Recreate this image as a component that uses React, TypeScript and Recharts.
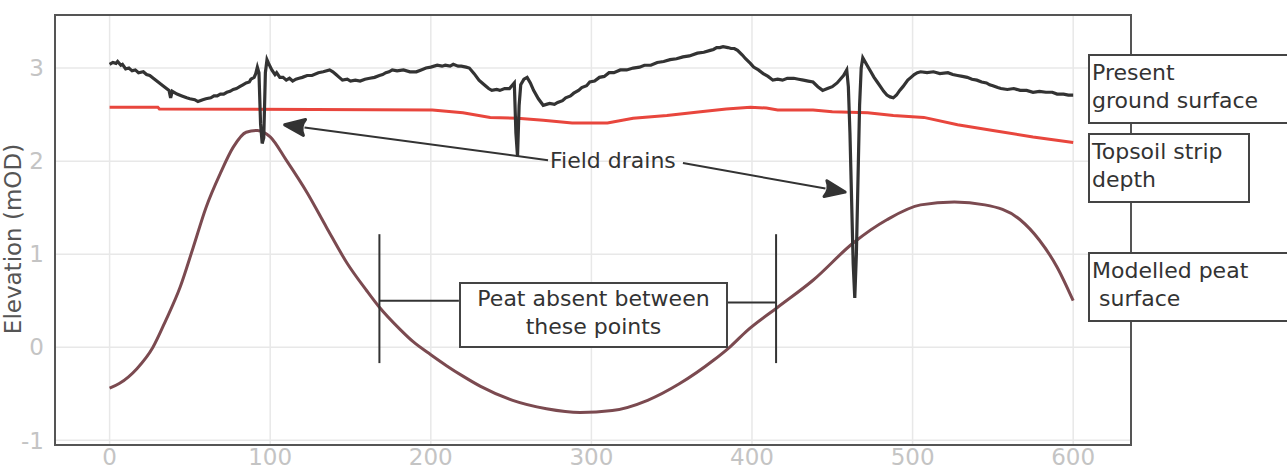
import { LineChart, Line, XAxis, YAxis, CartesianGrid, ReferenceLine, ReferenceArea } from "recharts";

const FONT = "'DejaVu Sans', Verdana, sans-serif";

const xTicks = [0, 100, 200, 300, 400, 500, 600];
const yTicks = [-1, 0, 1, 2, 3];

// distance (m), elevation (mOD)
const groundSurface: [number, number][] = [
  [0, 3.04], [2, 3.06], [4, 3.05], [5, 3.07], [7, 3.03], [8, 3.04], [10, 2.99], [12, 3.0],
  [14, 2.97], [16, 2.98], [18, 2.95], [21, 2.96], [23, 2.93], [25, 2.92], [28, 2.88], [31, 2.84],
  [34, 2.8], [37, 2.76], [38, 2.68], [39, 2.75], [42, 2.72], [45, 2.7], [48, 2.68], [50, 2.67],
  [53, 2.66], [55, 2.64], [58, 2.66], [60, 2.67], [63, 2.68], [65, 2.7], [67, 2.7], [69, 2.72],
  [71, 2.72], [73, 2.74], [75, 2.75], [77, 2.77], [79, 2.78], [81, 2.8], [83, 2.82], [85, 2.84],
  [87, 2.85], [88, 2.88], [90, 2.9], [91, 2.94], [92, 3.01], [93, 2.95], [94, 2.4], [95, 2.19],
  [96, 2.25], [97, 2.95], [98, 3.09], [99, 3.05], [101, 2.98], [103, 2.93], [104, 2.95],
  [106, 2.9], [108, 2.9], [110, 2.87], [112, 2.89], [114, 2.86], [116, 2.88], [118, 2.89],
  [120, 2.9], [123, 2.92], [126, 2.92], [130, 2.95], [133, 2.96], [137, 2.98], [139, 2.96],
  [141, 2.93], [143, 2.9], [145, 2.87], [148, 2.88], [150, 2.86], [153, 2.87], [156, 2.86],
  [159, 2.88], [162, 2.89], [165, 2.9], [168, 2.92], [170, 2.93], [172, 2.95], [174, 2.96],
  [176, 2.98], [179, 2.97], [183, 2.98], [187, 2.96], [191, 2.96], [194, 2.98], [197, 3.0],
  [200, 3.01], [204, 3.03], [207, 3.02], [209, 3.03], [212, 3.02], [214, 3.04], [217, 3.02],
  [219, 3.02], [222, 3.01], [224, 3.0], [227, 2.94], [230, 2.87], [232, 2.84], [234, 2.81],
  [236, 2.78], [238, 2.76], [241, 2.77], [243, 2.76], [246, 2.78], [249, 2.78], [251, 2.82],
  [252, 2.84], [253, 2.3], [254, 2.05], [255, 2.6], [256, 2.82], [258, 2.88], [260, 2.9],
  [262, 2.84], [264, 2.76], [267, 2.67], [270, 2.6], [272, 2.61], [274, 2.62], [277, 2.61],
  [279, 2.63], [282, 2.65], [284, 2.68], [287, 2.7], [289, 2.73], [292, 2.76], [294, 2.79],
  [297, 2.81], [299, 2.85], [302, 2.86], [305, 2.9], [308, 2.91], [311, 2.95], [314, 2.95],
  [318, 2.98], [322, 2.98], [326, 3.0], [330, 3.01], [333, 3.03], [337, 3.03], [341, 3.06],
  [345, 3.07], [349, 3.09], [353, 3.1], [357, 3.12], [361, 3.13], [366, 3.16], [370, 3.17],
  [374, 3.19], [376, 3.2], [378, 3.22], [380, 3.22], [382, 3.23], [385, 3.22], [387, 3.21],
  [389, 3.21], [391, 3.19], [394, 3.14], [396, 3.1], [399, 3.05], [401, 3.01], [404, 2.98],
  [407, 2.94], [410, 2.91], [413, 2.87], [416, 2.88], [419, 2.87], [422, 2.89], [426, 2.89],
  [429, 2.88], [432, 2.87], [435, 2.86], [438, 2.85], [441, 2.8], [444, 2.76], [447, 2.78],
  [450, 2.8], [453, 2.84], [455, 2.88], [457, 2.92], [459, 2.98], [460, 2.8], [461, 2.3],
  [462, 1.6], [463, 0.9], [464, 0.53], [465, 1.0], [466, 1.8], [467, 2.6], [468, 3.0],
  [469, 3.11], [472, 3.02], [474, 2.96], [476, 2.9], [478, 2.85], [480, 2.8], [482, 2.75],
  [484, 2.71], [486, 2.69], [488, 2.68], [490, 2.71], [492, 2.76], [494, 2.8], [497, 2.87],
  [499, 2.9], [501, 2.93], [503, 2.95], [505, 2.96], [509, 2.95], [513, 2.96], [517, 2.94],
  [522, 2.95], [525, 2.93], [528, 2.92], [531, 2.91], [534, 2.9], [537, 2.88], [540, 2.87],
  [543, 2.85], [546, 2.84], [548, 2.82], [550, 2.81], [553, 2.79], [555, 2.78], [559, 2.77],
  [563, 2.78], [567, 2.76], [571, 2.76], [575, 2.74], [579, 2.75], [583, 2.74], [587, 2.74],
  [590, 2.72], [594, 2.72], [597, 2.71], [600, 2.71],
];

const topsoilStrip: [number, number][] = [
  [0, 2.58], [30, 2.58], [31, 2.56], [201, 2.55], [220, 2.52], [237, 2.47], [254, 2.46],
  [270, 2.44], [288, 2.41], [310, 2.41], [326, 2.46], [347, 2.49], [368, 2.53], [384, 2.56],
  [399, 2.58], [409, 2.57], [416, 2.55], [438, 2.55], [450, 2.53], [472, 2.52], [488, 2.49],
  [507, 2.47], [528, 2.39], [550, 2.33], [575, 2.26], [600, 2.2],
];

const peatSurface: [number, number][] = [
  [0, -0.44], [6, -0.39], [17, -0.23], [27, 0.0], [35, 0.29], [44, 0.65], [52, 1.07], [60, 1.5],
  [69, 1.87], [77, 2.15], [85, 2.31], [92, 2.33], [100, 2.26], [110, 2.01], [123, 1.66],
  [135, 1.29], [148, 0.9], [160, 0.61], [168, 0.43], [181, 0.19], [189, 0.06], [200, -0.08],
  [210, -0.2], [220, -0.31], [231, -0.42], [251, -0.57], [272, -0.66], [293, -0.7],
  [313, -0.68], [335, -0.57], [355, -0.39], [376, -0.14], [386, 0.0], [397, 0.18], [416, 0.43],
  [438, 0.72], [463, 1.12], [484, 1.37], [505, 1.53], [526, 1.56], [545, 1.53], [567, 1.37],
  [579, 1.15], [590, 0.86], [600, 0.5],
];

const toRows = (pts: [number, number][]) => pts.map(([x, y]) => ({ x, y }));

const xDomain: [number, number] = [-34, 636];
const yDomain: [number, number] = [-1.05, 3.57];

// annotation anchors, in data units
const peatAbsentLeft = 168;
const peatAbsentRight = 415;

const Arrow = (props: any) => {
  const { x1, y1, x2, y2 } = props;
  const dx = x2 - x1;
  const dy = y2 - y1;
  const len = Math.hypot(dx, dy) || 1;
  const ux = dx / len;
  const uy = dy / len;
  const bx = x2 - ux * 20;
  const by = y2 - uy * 20;
  const px = -uy * 8;
  const py = ux * 8;
  return (
    <g>
      <line x1={x1} y1={y1} x2={bx} y2={by} stroke="#333" strokeWidth={2} />
      <path
        d={`M${x2},${y2} L${bx + px},${by + py} Q${bx + ux * 5},${by + uy * 5} ${bx - px},${by - py} Z`}
        fill="#333"
        stroke="#333"
        strokeWidth={3}
        strokeLinejoin="round"
      />
    </g>
  );
};

const boxStyle: React.CSSProperties = {
  position: "absolute",
  boxSizing: "border-box",
  border: "2px solid #444",
  background: "#fff",
  fontFamily: FONT,
  fontSize: 22,
  lineHeight: "28px",
  color: "#333",
  whiteSpace: "nowrap",
};

export default function App() {
  return (
    <div
      style={{
        position: "fixed",
        left: 0,
        top: 0,
        width: 1287,
        height: 472,
        background: "#fff",
        overflow: "hidden",
      }}
    >
      <LineChart width={1287} height={472} margin={{ top: 15, right: 156, bottom: 0, left: 0 }}>
        <CartesianGrid stroke="#e8e8e8" strokeWidth={1.5} />
        <XAxis
          type="number"
          dataKey="x"
          domain={xDomain}
          ticks={xTicks}
          allowDataOverflow
          tickLine={false}
          axisLine={false}
          tickSize={0}
          tickMargin={4}
          height={27}
          tick={{ fill: "#c4c4c4", fontSize: 23, fontFamily: FONT }}
        />
        <YAxis
          type="number"
          domain={yDomain}
          ticks={yTicks}
          allowDataOverflow
          tickLine={false}
          axisLine={false}
          tickSize={0}
          tickMargin={11}
          width={55}
          tick={{ fill: "#c4c4c4", fontSize: 23, fontFamily: FONT }}
        />
        <ReferenceArea
          x1={xDomain[0]}
          x2={xDomain[1]}
          y1={yDomain[0]}
          y2={yDomain[1]}
          fill="none"
          stroke="#555"
          strokeWidth={2}
          ifOverflow="visible"
        />
        <Line
          data={toRows(topsoilStrip)}
          dataKey="y"
          type="linear"
          stroke="#e8463d"
          strokeWidth={3}
          dot={false}
          isAnimationActive={false}
        />
        <Line
          data={toRows(peatSurface)}
          dataKey="y"
          type="monotone"
          stroke="#7b4a50"
          strokeWidth={3}
          dot={false}
          isAnimationActive={false}
        />
        <Line
          data={toRows(groundSurface)}
          dataKey="y"
          type="linear"
          stroke="#333"
          strokeWidth={3.2}
          dot={false}
          isAnimationActive={false}
        />
        <ReferenceLine
          segment={[{ x: peatAbsentLeft, y: 1.215 }, { x: peatAbsentLeft, y: -0.17 }]}
          stroke="#333"
          strokeWidth={2}
        />
        <ReferenceLine
          segment={[{ x: peatAbsentRight, y: 1.215 }, { x: peatAbsentRight, y: -0.17 }]}
          stroke="#333"
          strokeWidth={2}
        />
        <ReferenceLine
          segment={[{ x: peatAbsentLeft, y: 0.5 }, { x: 217.5, y: 0.5 }]}
          stroke="#333"
          strokeWidth={2}
        />
        <ReferenceLine
          segment={[{ x: 385, y: 0.48 }, { x: peatAbsentRight, y: 0.48 }]}
          stroke="#333"
          strokeWidth={2}
        />
        <ReferenceLine
          segment={[{ x: 273, y: 2.01 }, { x: 109, y: 2.39 }]}
          shape={Arrow}
        />
        <ReferenceLine
          segment={[{ x: 357, y: 1.98 }, { x: 458, y: 1.667 }]}
          shape={Arrow}
        />
      </LineChart>

      <div
        style={{
          position: "absolute",
          left: -117,
          top: 226,
          width: 260,
          height: 26,
          lineHeight: "26px",
          textAlign: "center",
          transform: "rotate(-90deg)",
          fontFamily: FONT,
          fontSize: 23,
          color: "#555",
          whiteSpace: "nowrap",
        }}
      >
        Elevation (mOD)
      </div>

      <div style={{ ...boxStyle, left: 1088, top: 54, width: 230, height: 70, padding: "3px 0 0 2px" }}>
        Present
        <br />
        ground surface
      </div>
      <div style={{ ...boxStyle, left: 1088, top: 133, width: 162, height: 70, padding: "3px 0 0 2px" }}>
        Topsoil strip
        <br />
        depth
      </div>
      <div style={{ ...boxStyle, left: 1088, top: 252, width: 230, height: 70, padding: "3px 0 0 2px" }}>
        Modelled peat
        <br />
        {"\u00a0surface"}
      </div>
      <div
        style={{
          ...boxStyle,
          left: 459,
          top: 282,
          width: 269,
          height: 66,
          padding: "1px 0 0 0",
          textAlign: "center",
        }}
      >
        Peat absent between
        <br />
        these points
      </div>
      <div
        style={{
          position: "absolute",
          left: 550,
          top: 147,
          fontFamily: FONT,
          fontSize: 22,
          lineHeight: "28px",
          color: "#333",
          whiteSpace: "nowrap",
        }}
      >
        Field drains
      </div>
    </div>
  );
}
